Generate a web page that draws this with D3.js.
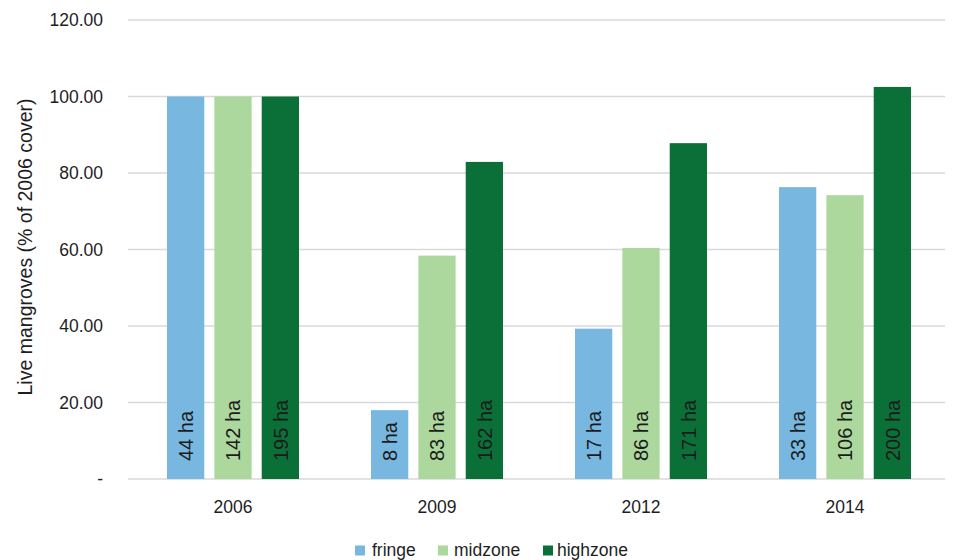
<!DOCTYPE html>
<html>
<head>
<meta charset="utf-8">
<script src="https://cdn.jsdelivr.net/npm/d3@7"></script>
<style>
  body { margin: 0; background: #fff; }
  svg text { font-family: "Liberation Sans", Arial, sans-serif; }
</style>
</head>
<body>
<div id="chart"></div>
<script>
const years = ["2006", "2009", "2012", "2014"];
const seriesNames = ["fringe", "midzone", "highzone"];
const fringe = [100, 18.0, 39.3, 76.3];
const midzone = [100, 58.4, 60.4, 74.2];
const highzone = [100, 82.9, 87.8, 102.5];
const fringeHa = ["44 ha", "8 ha", "17 ha", "33 ha"];
const midzoneHa = ["142 ha", "83 ha", "86 ha", "106 ha"];
const highzoneHa = ["195 ha", "162 ha", "171 ha", "200 ha"];
const yTicks = [0, 20, 40, 60, 80, 100, 120];
const colors = ["#78b7e0", "#acd89e", "#0b7038"];

const width = 970, height = 560;
const margin = {top: 20, right: 25, bottom: 81, left: 128};

var svg = d3.select("#chart").append("svg")
  .attr("width", width).attr("height", height);

var x = d3.scaleBand().domain(years).range([131, 947]);
var xs = d3.scaleBand().domain(seriesNames)
  .range([0, 132]).paddingInner(10 / 47);
var y = d3.scaleLinear().domain([0, 120])
  .range([height - margin.bottom, margin.top]);

// grid
svg.append("g").selectAll("line").data(yTicks).enter().append("line")
  .attr("x1", margin.left).attr("x2", width - margin.right)
  .attr("y1", d => y(d)).attr("y2", d => y(d))
  .attr("stroke", "#d9d9d9").attr("stroke-width", 1.3);

// y tick labels
svg.append("g").selectAll("text").data(yTicks).enter().append("text")
  .attr("x", 103).attr("y", d => y(d)).attr("dy", "0.35em")
  .attr("text-anchor", "end").attr("font-size", 17.5).attr("fill", "#1e1e1e")
  .text(d => d === 0 ? "-" : d.toFixed(2));

// y title
svg.append("text")
  .attr("transform", "translate(25," + 247 + ") rotate(-90)")
  .attr("dy", "0.35em")
  .attr("text-anchor", "middle").attr("font-size", 19.5).attr("fill", "#1e1e1e")
  .text("Live mangroves (% of 2006 cover)");

// x labels
svg.append("g").selectAll("text").data(years).enter().append("text")
  .attr("x", d => x(d) + x.bandwidth() / 2).attr("y", 513)
  .attr("text-anchor", "middle").attr("font-size", 17.5).attr("fill", "#1e1e1e")
  .text(d => d);

const allVals = [fringe, midzone, highzone];
const allHa = [fringeHa, midzoneHa, highzoneHa];
const rows = [];
years.forEach((yr, i) => {
  seriesNames.forEach((s, j) => {
    rows.push({year: yr, series: s, value: allVals[j][i], label: allHa[j][i], color: colors[j]});
  });
});

var bar = svg.append("g").selectAll("g").data(rows).enter().append("g")
  .attr("transform", d => "translate(" + (x(d.year) + x.bandwidth() / 2 - 66 + xs(d.series)) + ",0)");

bar.append("rect")
  .attr("y", d => y(d.value))
  .attr("width", xs.bandwidth())
  .attr("height", d => y(0) - y(d.value))
  .attr("fill", d => d.color);

bar.append("text")
  .attr("transform", d => "translate(" + (xs.bandwidth() / 2) + "," + (y(0) - 18) + ") rotate(-90)")
  .attr("dy", "0.36em")
  .attr("font-family", "'Open Sans', sans-serif")
  .attr("font-size", 20).attr("fill", "#1b1b1b")
  .text(d => d.label);

// legend
const legendX = [355, 438, 543];
const legendGap = [17, 16, 14];
var lg = svg.append("g").selectAll("g").data(seriesNames).enter().append("g")
  .attr("transform", (d, i) => "translate(" + legendX[i] + ",550)");
lg.append("rect").attr("x", 0).attr("y", -4.5).attr("width", 10).attr("height", 10)
  .attr("fill", (d, i) => colors[i]);
lg.append("text").attr("x", (d, i) => legendGap[i]).attr("dy", "0.35em")
  .attr("font-size", 17.5).attr("fill", "#1e1e1e").text(d => d);
</script>
</body>
</html>
